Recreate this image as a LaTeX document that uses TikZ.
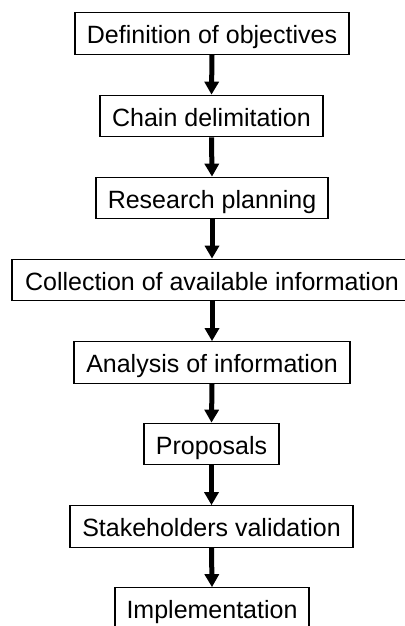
\documentclass[tikz,border=0pt]{standalone}
\usepackage{fontspec}
\setmainfont{Liberation Sans}
\usetikzlibrary{arrows.meta}
\begin{document}
\begin{tikzpicture}[x=1pt,y=-1pt,
  stepbox/.style={draw=black, line width=1.2pt, inner sep=0pt, minimum height=41.5pt, text height=20.5pt, text depth=0pt, font=\fontsize{25}{28}\selectfont, fill=white},
  flowarrow/.style={line width=5pt, -{Triangle[width=14pt,length=13pt]}}]
\useasboundingbox (0,0) rectangle (404,626);
\fill[white] (0,0) rectangle (404,626);
\node[stepbox, minimum width=274pt] (n1) at (212,33.5) {Definition of objectives};
\node[stepbox, minimum width=223pt] (n2) at (211.5,116) {Chain delimitation};
\node[stepbox, minimum width=232pt] (n3) at (212,198) {Research planning};
\node[stepbox, minimum width=400pt] (n4) at (212,280) {Collection of available information};
\node[stepbox, minimum width=276pt] (n5) at (212,362.5) {Analysis of information};
\node[stepbox, minimum width=135pt] (n6) at (211.5,444) {Proposals};
\node[stepbox, minimum width=283pt] (n7) at (211.5,526.5) {Stakeholders validation};
\node[stepbox, minimum width=194pt] (n8) at (212,608.5) {Implementation};
\foreach \a/\b in {n1/n2,n2/n3,n3/n4,n4/n5,n5/n6,n6/n7,n7/n8}
  \draw[flowarrow] (\a.south) -- (\b.north);
\end{tikzpicture}
\end{document}
